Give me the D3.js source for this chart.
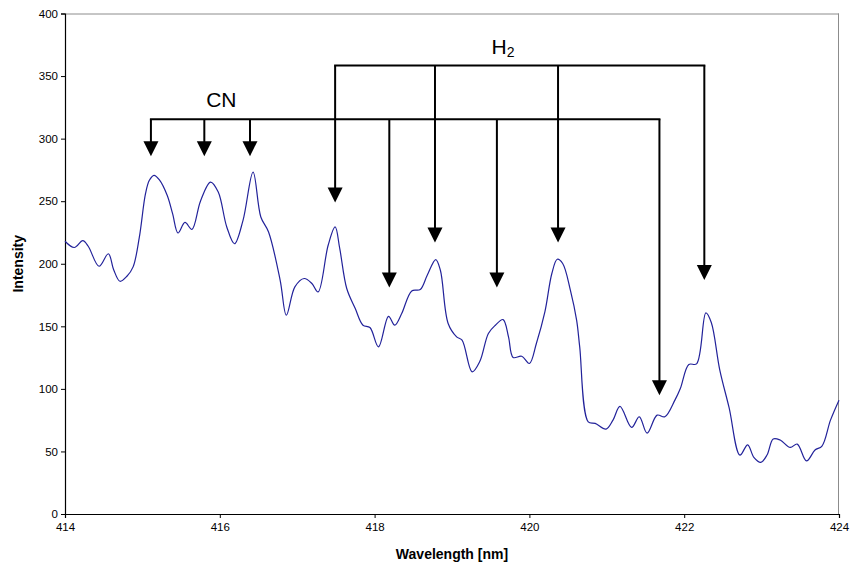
<!DOCTYPE html>
<html>
<head>
<meta charset="utf-8">
<script src="https://cdn.jsdelivr.net/npm/d3@7"></script>
<style>
  html, body { margin: 0; padding: 0; background: #fff; }
  svg { display: block; }
  text { font-family: Arial, "Liberation Sans", sans-serif; }
</style>
</head>
<body>
<svg id="chart" width="850" height="570"></svg>
<script>
// ---- Data ----
const wavelength = [414.00,414.12,414.23,414.30,414.44,414.56,414.63,414.71,414.80,414.88,414.96,415.04,415.09,415.15,415.22,415.32,415.39,415.46,415.55,415.64,415.75,415.88,415.98,416.09,416.19,416.30,416.43,416.53,416.63,416.78,416.86,416.97,417.09,417.19,417.27,417.40,417.49,417.55,417.64,417.75,417.85,417.94,418.05,418.18,418.26,418.35,418.48,418.59,418.68,418.79,418.85,418.95,419.06,419.13,419.26,419.36,419.47,419.56,419.66,419.73,419.79,419.90,420.00,420.09,420.20,420.29,420.36,420.43,420.53,420.61,420.65,420.76,420.85,420.99,421.08,421.17,421.32,421.42,421.52,421.65,421.75,421.88,421.95,422.06,422.16,422.28,422.35,422.46,422.58,422.72,422.82,422.90,422.99,423.07,423.15,423.24,423.37,423.46,423.58,423.69,423.78,423.89,424.00];
const intensity  = [218,213,218.5,214,198,208,195,186,190,197.5,221,256,266.7,270.7,267,254.7,240,224.6,233,227.5,250,265.3,257.3,229.4,216,234.7,273.3,237.4,225.4,186.8,158.9,181.5,188.2,184.2,177.5,214.8,229.4,212,180.2,164.2,150.9,149,133.6,158,150.9,160.2,178.3,179.4,190.8,203.3,194.8,152.3,141.6,138.9,113.6,122,144.3,150.9,155.4,141.6,125.1,126.1,120.3,136.3,161.5,192.2,203.6,200.2,178.8,154.9,133.6,73.7,72.4,67.9,75,86,69.2,77.7,64.6,79,77.7,91,100.3,119.5,120,160.7,153,115,85,47.1,55.3,45.3,41.3,47.1,60,59.1,53.2,55.9,42.4,51.1,54.3,75,91];

const xTicks = [414, 416, 418, 420, 422, 424];
const yTicks = [0, 50, 100, 150, 200, 250, 300, 350, 400];

// Annotations
const cnLabel = "CN";
const cnLines = [415.11, 415.80, 416.39, 418.19, 419.58, 421.68];
const cnTips  = [286, 286, 286, 181, 181, 95];
const cnBracket = 315.5;
const h2Label = "H";
const h2Sub = "2";
const h2Lines = [417.49, 418.78, 420.37, 422.26];
const h2Tips  = [249, 217, 217, 187];
const h2Bracket = 358.5;

// ---- Layout ----
const W = 850, H = 570;
const m = { left: 65, top: 13.5, right: 11, bottom: 56 };
const svg = d3.select("#chart");

const x = d3.scaleLinear().domain([414, 424]).range([m.left, W - m.right]);
const y = d3.scaleLinear().domain([0, 400]).range([H - m.bottom, m.top]);

// Frame top/right (grey)
svg.append("line").attr("x1", x(414)).attr("x2", x(424)).attr("y1", y(400) + 0.5).attr("y2", y(400) + 0.5)
  .attr("stroke", "#8c8c8c").attr("stroke-width", 1);
svg.append("line").attr("x1", x(424) - 0.5).attr("x2", x(424) - 0.5).attr("y1", y(400)).attr("y2", y(0))
  .attr("stroke", "#8c8c8c").attr("stroke-width", 1);

// Axes
const xAxis = d3.axisBottom(x).tickValues(xTicks).tickFormat(d3.format("d")).tickSizeOuter(0).tickSize(4).tickPadding(5);
const yAxis = d3.axisLeft(y).tickValues(yTicks).tickFormat(d3.format("d")).tickSizeOuter(0).tickSize(4).tickPadding(3);

const gx = svg.append("g").attr("transform", `translate(0,${y(0)})`).call(xAxis);
const gy = svg.append("g").attr("transform", `translate(${x(414)},0)`).call(yAxis);
[gx, gy].forEach(g => {
  g.selectAll("path.domain").attr("stroke", "#000").attr("stroke-width", 1.2);
  g.selectAll(".tick line").attr("stroke", "#000");
  g.selectAll(".tick text").attr("fill", "#000").style("font-size", "11.5px")
    .style("font-family", "Arial, 'Liberation Sans', sans-serif");
});

// Axis titles
svg.append("text").attr("x", (x(414) + x(424)) / 2).attr("y", 559)
  .attr("text-anchor", "middle").style("font-size", "14px").style("font-weight", "bold")
  .text("Wavelength [nm]");
svg.append("text").attr("transform", `translate(23,${(y(0) + y(400)) / 2}) rotate(-90)`)
  .attr("text-anchor", "middle").style("font-size", "14px").style("font-weight", "bold")
  .text("Intensity");

// Spectrum line
const data = wavelength.map((w, i) => ({ w, v: intensity[i] }));
svg.append("path").datum(data)
  .attr("fill", "none").attr("stroke", "#22229a").attr("stroke-width", 1.2)
  .attr("d", d3.line().x(d => x(d.w)).y(d => y(d.v)).curve(d3.curveCatmullRom.alpha(0.5)));

// Annotation arrows
const ann = svg.append("g");
const headH = 15, headW = 15;
function arrows(lines, tips, bracket) {
  ann.append("line").attr("x1", x(d3.min(lines))).attr("x2", x(d3.max(lines)))
    .attr("y1", y(bracket)).attr("y2", y(bracket))
    .attr("stroke", "#000").attr("stroke-width", 2).attr("stroke-linecap", "square");
  lines.forEach((w, i) => {
    const px = x(w), ty = y(tips[i]);
    ann.append("line").attr("x1", px).attr("x2", px).attr("y1", y(bracket)).attr("y2", ty - headH + 1)
      .attr("stroke", "#000").attr("stroke-width", 2);
    ann.append("path")
      .attr("d", `M${px - headW / 2},${ty - headH} L${px + headW / 2},${ty - headH} L${px},${ty} Z`)
      .attr("fill", "#000");
  });
}
arrows(cnLines, cnTips, cnBracket);
arrows(h2Lines, h2Tips, h2Bracket);

// Labels
svg.append("text").attr("x", x(416.02)).attr("y", y(325)).attr("text-anchor", "middle")
  .style("font-size", "21px").attr("fill", "#000").text(cnLabel);
const h2t = svg.append("text").attr("x", x(419.51)).attr("y", y(367.8))
  .style("font-size", "21px").attr("fill", "#000");
h2t.append("tspan").text(h2Label);
h2t.append("tspan").attr("dy", 3).style("font-size", "14px").text(h2Sub);
</script>
</body>
</html>
